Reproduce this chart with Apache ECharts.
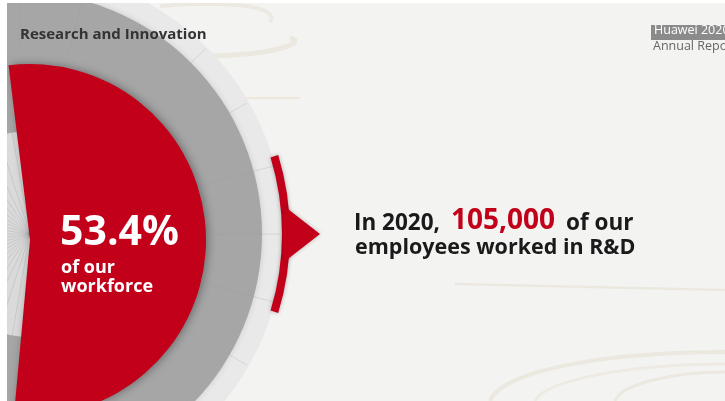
<!DOCTYPE html>
<html>
<head>
<meta charset="utf-8">
<script src="https://cdn.jsdelivr.net/npm/echarts@6/dist/echarts.min.js"></script>
<style>
html,body{margin:0;padding:0;background:#f3f3f2;}
#c{width:725px;height:401px;}
</style>
</head>
<body>
<div id="c"></div>
<script>
// ---- data ----
const categories = ['R&D employees', 'Other employees'];
const shareValues = [53.4, 46.6];
const year = 2020;
const rdHeadcount = '105,000';
const titleText = 'Research and Innovation';
const reportBadge = 'Huawei 2020';
const reportSub = 'Annual Report';

// ---- layout ----
const CX = 20, CY = 234;
const RCX = 30, RCY = 240;
const R_RED = 176, R_GRAY = 242, R_INNER = 103, R_LIGHT = 262, R_ARC0 = 262, R_ARC1 = 270;
const RED = '#c2001a';

const chart = echarts.init(document.getElementById('c'), null, {renderer: 'canvas'});

function spokes(cx, cy, r0, r1, stepDeg, fromDeg, toDeg, color, width) {
  const out = [];
  for (let a = fromDeg; a <= toDeg + 0.001; a += stepDeg) {
    const t = a * Math.PI / 180;
    out.push({
      type: 'line', silent: true,
      shape: {x1: cx + r0 * Math.cos(t), y1: cy - r0 * Math.sin(t), x2: cx + r1 * Math.cos(t), y2: cy - r1 * Math.sin(t)},
      style: {stroke: color, lineWidth: width}
    });
  }
  return out;
}

const arcHalf = 17;
const bg = [
  {type: 'rect', silent: true, z: -10, shape: {x: 0, y: 0, width: 725, height: 401}, style: {fill: '#f3f3f2'}},
  // faint paper swirls
  {type: 'bezierCurve', silent: true, z: -9, shape: {x1: 130, y1: 45, x2: 290, y2: 38, cpx1: 210, cpy1: 70, cpx2: 320, cpy2: 45}, style: {stroke: '#ebe8e0', lineWidth: 5, fill: null}},
  {type: 'bezierCurve', silent: true, z: -9, shape: {x1: 160, y1: 6, x2: 270, y2: 22, cpx1: 230, cpy1: 0, cpx2: 280, cpy2: 6}, style: {stroke: '#ece9e2', lineWidth: 4, fill: null}},
  {type: 'line', silent: true, z: -9, shape: {x1: 228, y1: 98, x2: 300, y2: 98}, style: {stroke: '#ece3d2', lineWidth: 1.5}},
  {type: 'line', silent: true, z: -9, shape: {x1: 455, y1: 284, x2: 725, y2: 290}, style: {stroke: '#ebe8df', lineWidth: 2.5}},
  {type: 'bezierCurve', silent: true, z: -9, shape: {x1: 725, y1: 352, x2: 490, y2: 401, cpx1: 600, cpy1: 352, cpx2: 500, cpy2: 372}, style: {stroke: '#ebe8e0', lineWidth: 4, fill: null}},
  {type: 'bezierCurve', silent: true, z: -9, shape: {x1: 725, y1: 364, x2: 535, y2: 401, cpx1: 630, cpy1: 364, cpx2: 545, cpy2: 380}, style: {stroke: '#eceae3', lineWidth: 3, fill: null}},
  {type: 'bezierCurve', silent: true, z: -9, shape: {x1: 725, y1: 372, x2: 615, y2: 401, cpx1: 670, cpy1: 372, cpx2: 620, cpy2: 385}, style: {stroke: '#ebe8e0', lineWidth: 3, fill: null}}
];

const deco = [].concat(
  spokes(CX, CY, R_GRAY, R_LIGHT, 15, -45, 45, 'rgba(150,150,150,0.35)', 0.7),
  spokes(CX, CY, R_RED + 10, R_GRAY, 15, -90, 90, 'rgba(140,140,140,0.18)', 0.7),
  spokes(RCX, RCY - 6, 0, R_INNER, 8, 100, 260, 'rgba(150,150,150,0.45)', 0.6)
);
deco.forEach(d => { d.z = 1; });

const over = [
  // pointer triangle on the arc
  {type: 'polygon', silent: true, z: 5,
   shape: {points: [[CX + R_ARC0 + 2, CY - 28], [CX + 300, CY], [CX + R_ARC0 + 2, CY + 28]]},
   style: {fill: RED, shadowBlur: 4, shadowColor: 'rgba(0,0,0,0.25)'}},
  // left / top white margins of the scan
  {type: 'rect', silent: true, z: 20, shape: {x: 0, y: 0, width: 7, height: 401}, style: {fill: '#ffffff'}},
  {type: 'rect', silent: true, z: 20, shape: {x: 0, y: 0, width: 725, height: 3}, style: {fill: '#ffffff'}},
  // title
  {type: 'text', silent: true, z: 21, left: 20, top: 27,
   style: {text: titleText, fill: '#333333', font: 'bold 15px "Open Sans"'}},
  // badge
  {type: 'rect', silent: true, z: 21, shape: {x: 651, y: 25, width: 80, height: 15}, style: {fill: '#8b8b8b'}},
  {type: 'text', silent: true, z: 22, left: 654, top: 24,
   style: {text: reportBadge, fill: '#ffffff', font: '12.5px "Open Sans"'}},
  {type: 'text', silent: true, z: 22, left: 653, top: 40,
   style: {text: reportSub, fill: '#666666', font: '12.5px "Open Sans"'}},
  // value inside red sector
  {type: 'text', silent: true, z: 22, left: 60, top: 213,
   style: {text: shareValues[0].toFixed(1) + '%', fill: '#ffffff', font: 'bold 41px "Open Sans"'}},
  {type: 'text', silent: true, z: 22, left: 61, top: 258,
   style: {text: 'of our\nworkforce', fill: '#ffffff', font: 'bold 18px "Open Sans"', lineHeight: 19}},
  // statement
  {type: 'text', silent: true, z: 22, left: 354, top: 207,
   style: {
     text: '{b|In ' + year + ',}{r|' + rdHeadcount + '}{b|of our}',
     rich: {
       b: {fill: '#1a1a1a', font: 'bold 22.5px "Open Sans"', lineHeight: 29, verticalAlign: 'bottom'},
       r: {fill: RED, font: 'bold 28px "Open Sans"', lineHeight: 29, verticalAlign: 'bottom', padding: [0, 11, 0, 11]}
     }
   }},
  {type: 'text', silent: true, z: 22, left: 355, top: 236,
   style: {text: 'employees worked in R&D', fill: '#1a1a1a', font: 'bold 21.5px "Open Sans"', lineHeight: 24}}
];

chart.setOption({
  animation: false,
  backgroundColor: '#f3f3f2',
  graphic: bg.concat(deco, over),
  series: [
    { // outer light ring segment
      type: 'pie', silent: true, z: 0, center: [CX, CY], radius: [R_GRAY - 2, R_LIGHT + 2],
      startAngle: 75, label: {show: false}, labelLine: {show: false},
      data: [{value: 150, itemStyle: {color: '#e9e9e9'}}, {value: 210, itemStyle: {color: 'rgba(0,0,0,0)'}}]
    },
    { // gray disc
      type: 'pie', silent: true, z: 0, center: [CX, CY], radius: [0, R_GRAY],
      label: {show: false}, labelLine: {show: false},
      data: [{value: 1, itemStyle: {color: '#a6a6a6', shadowBlur: 6, shadowColor: 'rgba(0,0,0,0.12)'}}]
    },
    { // inner light disc
      type: 'pie', silent: true, z: 0, center: [RCX, RCY - 6], radius: [0, R_INNER],
      label: {show: false}, labelLine: {show: false},
      data: [{value: 1, itemStyle: {color: '#dadada'}}]
    },
    { // share of workforce
      type: 'pie', silent: true, z: 3, center: [RCX, RCY], radius: [0, R_RED],
      startAngle: 97, clockwise: true, label: {show: false}, labelLine: {show: false},
      data: categories.map((c, i) => ({
        name: c, value: shareValues[i],
        itemStyle: i === 0
          ? {color: RED, shadowBlur: 8, shadowColor: 'rgba(0,0,0,0.35)', shadowOffsetX: 2}
          : {color: 'rgba(0,0,0,0)'}
      }))
    },
    { // thin red arc
      type: 'pie', silent: true, z: 4, center: [CX, CY], radius: [R_ARC0, R_ARC1],
      startAngle: arcHalf, label: {show: false}, labelLine: {show: false},
      data: [{value: 2 * arcHalf, itemStyle: {color: RED, shadowBlur: 4, shadowColor: 'rgba(0,0,0,0.3)'}},
             {value: 360 - 2 * arcHalf, itemStyle: {color: 'rgba(0,0,0,0)'}}]
    }
  ]
});
</script>
</body>
</html>
